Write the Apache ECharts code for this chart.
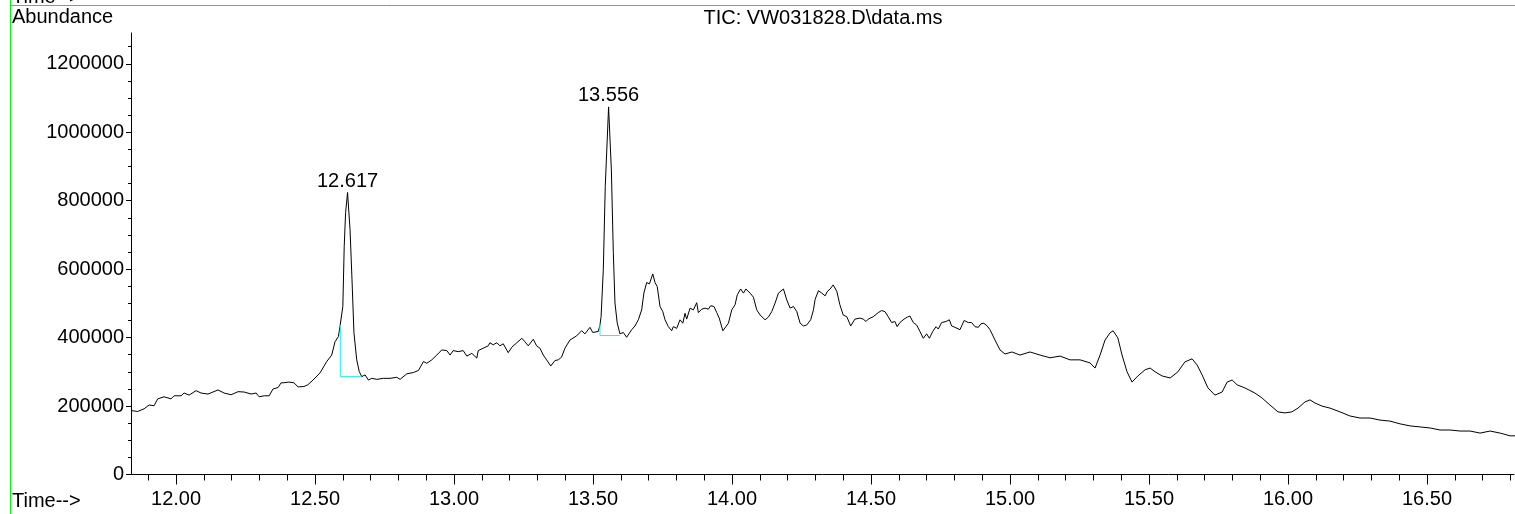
<!DOCTYPE html>
<html>
<head>
<meta charset="utf-8">
<script src="https://cdn.jsdelivr.net/npm/echarts@6/dist/echarts.min.js"></script>
<style>
html,body{margin:0;padding:0;background:#fff;}
#c{width:1515px;height:514px;}
</style>
</head>
<body>
<div id="c"></div>
<script>
// ---- data ----
const times = [
11.838,11.862,11.885,11.903,11.921,11.934,11.957,11.982,11.993,12.018,12.029,12.047,12.072,12.090,12.115,12.151,12.173,12.198,12.223,12.245,12.270,12.288,12.299,12.317,12.335,12.349,12.367,12.378,12.388,12.406,12.424,12.439,12.460,12.474,
12.493,12.518,12.542,12.560,12.572,12.584,12.590,12.600,12.605,12.610,12.617,12.626,12.633,12.640,12.650,12.659,12.668,12.680,12.692,12.704,12.722,12.746,12.770,12.794,12.806,12.830,12.854,12.872,12.890,12.902,12.920,12.938,12.956,12.974,12.986,12.997,
13.015,13.033,13.046,13.064,13.082,13.087,13.105,13.123,13.129,13.141,13.154,13.165,13.177,13.195,13.208,13.226,13.244,13.255,13.267,13.285,13.297,13.309,13.321,13.333,13.348,13.363,13.375,13.387,13.399,13.417,13.441,13.459,13.471,13.489,13.499,13.519,
13.525,13.529,13.537,13.544,13.556,13.566,13.573,13.579,13.587,13.597,13.609,13.621,13.639,13.651,13.663,13.675,13.683,13.693,13.703,13.715,13.723,13.731,13.741,13.751,13.759,13.771,13.783,13.789,13.801,13.813,13.823,13.831,13.837,13.849,13.861,13.873,13.879,13.891,13.903,13.915,13.923,13.935,13.945,13.954,13.967,13.978,13.987,13.999,
14.011,14.019,14.031,14.041,14.050,14.065,14.077,14.089,14.101,14.119,14.131,14.143,14.155,14.167,14.185,14.197,14.209,14.221,14.233,14.245,14.257,14.269,14.283,14.293,14.299,14.311,14.323,14.335,14.343,14.353,14.364,14.377,14.388,14.400,14.413,14.427,14.442,14.460,14.472,14.482,14.490,
14.508,14.526,14.538,14.550,14.562,14.574,14.586,14.594,14.604,14.619,14.631,14.640,14.652,14.664,14.676,14.688,14.700,14.710,14.722,14.734,14.742,14.754,14.770,14.782,14.790,14.802,14.820,14.835,14.850,14.862,14.874,14.886,14.895,14.906,14.918,14.928,
14.946,14.964,14.982,15.007,15.036,15.072,15.108,15.144,15.180,15.216,15.252,15.288,15.306,15.324,15.342,15.360,15.371,15.388,15.403,15.421,15.439,15.460,15.486,15.504,15.522,15.547,15.576,15.604,15.629,15.655,15.673,15.691,15.712,15.737,15.763,15.781,15.799,15.817,15.845,15.881,15.906,15.935,15.964,15.989,
16.014,16.036,16.061,16.079,16.097,16.122,16.151,16.187,16.223,16.259,16.295,16.331,16.367,16.403,16.439,16.475,16.511,16.547,16.583,16.619,16.655,16.691,16.727,16.763,16.799,16.817
];
const abundance = [
187000,184000,192000,203000,201000,221000,227000,221000,230000,230000,238000,232000,245000,238000,235000,247000,238000,233000,242000,241000,235000,238000,227000,230000,230000,250000,254000,268000,268000,270000,268000,256000,257000,262000,
276000,297000,330000,349000,388000,403000,434000,491000,666000,765000,824000,715000,569000,414000,335000,301000,286000,291000,276000,281000,278000,281000,281000,284000,278000,294000,298000,304000,330000,325000,335000,349000,364000,362000,349000,362000,
359000,362000,346000,354000,340000,362000,369000,376000,385000,379000,385000,376000,382000,356000,372000,385000,398000,388000,376000,395000,376000,369000,349000,335000,317000,333000,335000,343000,369000,393000,405000,420000,411000,430000,415000,418000,
437000,461000,598000,842000,1074000,890000,648000,501000,443000,411000,415000,401000,423000,434000,452000,481000,530000,561000,557000,586000,561000,549000,491000,476000,452000,432000,420000,432000,427000,452000,442000,471000,454000,486000,481000,502000,473000,483000,486000,483000,493000,491000,473000,457000,420000,432000,442000,481000,
496000,525000,542000,530000,542000,530000,518000,481000,466000,452000,460000,476000,501000,530000,542000,510000,486000,491000,476000,442000,434000,437000,452000,481000,512000,537000,530000,522000,535000,542000,554000,535000,496000,466000,461000,434000,454000,457000,454000,447000,454000,
461000,473000,479000,476000,461000,444000,447000,432000,444000,454000,460000,463000,444000,437000,418000,398000,411000,398000,418000,432000,425000,444000,447000,452000,434000,430000,423000,450000,444000,444000,432000,430000,440000,442000,434000,423000,
393000,364000,352000,358000,349000,358000,349000,341000,346000,335000,335000,326000,311000,349000,393000,414000,420000,399000,349000,300000,270000,288000,306000,311000,300000,288000,282000,300000,329000,338000,320000,291000,253000,232000,241000,270000,276000,262000,253000,238000,224000,203000,183000,180000,
183000,194000,212000,218000,209000,200000,194000,183000,171000,165000,165000,159000,156000,148000,142000,139000,136000,130000,130000,127000,127000,121000,127000,121000,113000,113000
];
// integration baselines (cyan)
const baseline1Times = [12.591, 12.591, 12.667];
const baseline1Values = [437000, 286000, 286000];
const baseline2Times = [13.525, 13.525, 13.597];
const baseline2Values = [440000, 406000, 406000];
// peak labels
const peakTimes = [12.617, 13.556];
const peakValues = [824000, 1074000];
const peakLabels = ['12.617', '13.556'];
// axis ticks
const xMajorTicks = [12.0, 12.5, 13.0, 13.5, 14.0, 14.5, 15.0, 15.5, 16.0, 16.5];
const xMinorTicks = [11.9,12.0,12.1,12.2,12.3,12.4,12.5,12.6,12.7,12.8,12.9,13.0,13.1,13.2,13.3,13.4,13.5,13.6,13.7,13.8,13.9,14.0,14.1,14.2,14.3,14.4,14.5,14.6,14.7,14.8,14.9,15.0,15.1,15.2,15.3,15.4,15.5,15.6,15.7,15.8,15.9,16.0,16.1,16.2,16.3,16.4,16.5,16.6,16.7,16.8];
const yMajorTicks = [0, 200000, 400000, 600000, 800000, 1000000, 1200000];
const yMinorTicks = [0,50000,100000,150000,200000,250000,300000,350000,400000,450000,500000,550000,600000,650000,700000,750000,800000,850000,900000,950000,1000000,1050000,1100000,1150000,1200000,1250000];
const xMin = 11.838, xMax = 16.813, yMin = 0, yMax = 1290000;
const titleText = 'TIC: VW031828.D\\data.ms';

// ---- chart ----
const FONT = '"Liberation Sans", Arial, sans-serif';
const chart = echarts.init(document.getElementById('c'), null, {renderer: 'canvas'});
const gridTop = 33, gridBottom = 39.5, gridLeft = 131, gridRight = 1;
const gridH = 514 - gridTop - gridBottom;
const gridW = 1515 - gridLeft - gridRight;
const mk = (ts, vs) => ts.map((t, i) => [t, vs[i]]);

chart.setOption({
  animation: false,
  backgroundColor: '#fff',
  grid: {left: gridLeft, right: gridRight, top: gridTop, bottom: gridBottom, containLabel: false},
  xAxis: [
    {
      type: 'value', min: xMin, max: xMax, position: 'bottom',
      axisLine: {show: true, lineStyle: {color: '#000', width: 1}},
      axisTick: {show: true, customValues: xMajorTicks, length: 10, lineStyle: {color: '#000'}},
      axisLabel: {show: true, customValues: xMajorTicks, margin: 15, fontSize: 20, fontFamily: FONT, color: '#000',
                  formatter: v => v.toFixed(2)},
      splitLine: {show: false}
    },
    {
      type: 'value', min: xMin, max: xMax, position: 'top', offset: -gridH,
      axisLine: {show: false},
      axisTick: {show: true, inside: true, customValues: xMinorTicks, length: 6, lineStyle: {color: '#000'}},
      axisLabel: {show: false},
      splitLine: {show: false}
    }
  ],
  yAxis: [
    {
      type: 'value', min: yMin, max: yMax, position: 'left',
      axisLine: {show: true, lineStyle: {color: '#000', width: 1}},
      axisTick: {show: true, customValues: yMajorTicks, length: 5, lineStyle: {color: '#000'}},
      axisLabel: {show: true, customValues: yMajorTicks, margin: 7, fontSize: 20, fontFamily: FONT, color: '#000',
                  formatter: v => String(v)},
      splitLine: {show: false}
    },
    {
      type: 'value', min: yMin, max: yMax, position: 'right', offset: -gridW,
      axisLine: {show: false},
      axisTick: {show: true, inside: true, customValues: yMinorTicks, length: 3, lineStyle: {color: '#000'}},
      axisLabel: {show: false},
      splitLine: {show: false}
    }
  ],
  series: [
    {
      type: 'line', xAxisIndex: 0, yAxisIndex: 0, data: mk(times, abundance),
      showSymbol: false, symbol: 'none', lineStyle: {color: '#000', width: 1}, silent: true
    },
    {
      type: 'line', data: mk(baseline1Times, baseline1Values), symbol: 'none',
      lineStyle: {color: '#22eeee', width: 1}, silent: true
    },
    {
      type: 'line', data: mk(baseline2Times, baseline2Values), symbol: 'none',
      lineStyle: {color: '#22eeee', width: 1}, silent: true
    },
    {
      type: 'scatter', data: mk(peakTimes, peakValues), symbolSize: 0, silent: true,
      itemStyle: {opacity: 1, color: '#000'},
      label: {show: true, position: 'top', distance: 1, fontSize: 20, fontFamily: FONT, color: '#000', opacity: 1,
              formatter: p => peakLabels[p.dataIndex]}
    }
  ],
  graphic: [
    {type: 'line', shape: {x1: 10.5, y1: 0, x2: 10.5, y2: 514}, style: {stroke: '#11ee11', lineWidth: 1}},
    {type: 'line', shape: {x1: 10.5, y1: 5.5, x2: 1515, y2: 5.5}, style: {stroke: '#11ee11', lineWidth: 1}},
    {type: 'text', x: 12, y: -13, style: {text: 'Time-->', font: '20px ' + FONT, fill: '#000', textAlign: 'left', textVerticalAlign: 'top'}},
    {type: 'text', x: 12, y: 7, style: {text: 'Abundance', font: '20px ' + FONT, fill: '#000', textAlign: 'left', textVerticalAlign: 'top'}},
    {type: 'text', x: 823, y: 8, style: {text: titleText, font: '20px ' + FONT, fill: '#000', textAlign: 'center', textVerticalAlign: 'top'}},
    {type: 'text', x: 12, y: 491, style: {text: 'Time-->', font: '20px ' + FONT, fill: '#000', textAlign: 'left', textVerticalAlign: 'top'}}
  ]
});
</script>
</body>
</html>
